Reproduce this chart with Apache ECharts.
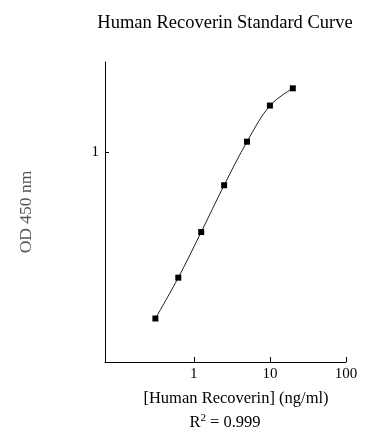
<!DOCTYPE html>
<html><head><meta charset="utf-8">
<script src="https://cdn.jsdelivr.net/npm/echarts@6/dist/echarts.min.js"></script>
<style>html,body{margin:0;padding:0;background:#fff}#c{width:388px;height:444px}</style>
</head><body><div id="c"></div>
<script>
var concentrations = [0.3125, 0.625, 1.25, 2.5, 5, 10, 20];
var odValues = [0.078, 0.146, 0.294, 0.603, 1.177, 2.05, 2.67];
var xTickValues = [1, 10, 100];
var yTickValues = [1];
var titleText = 'Human Recoverin Standard Curve';
var xName = '[Human Recoverin] (ng/ml)';
var yName = 'OD 450 nm';
var r2Text = '0.999';

var font = '"Liberation Serif", "Times New Roman", serif';
var chart = echarts.init(document.getElementById('c'), null, {renderer: 'canvas'});
var pts = concentrations.map(function (x, i) { return [x, odValues[i]]; });
chart.setOption({
  animation: false,
  backgroundColor: '#fff',
  title: [{
    text: titleText, left: 220, top: 9, textAlign: 'center',
    textStyle: {fontFamily: font, fontSize: 18.5, fontWeight: 'normal', color: '#000'}
  }, {
    text: xName, left: 231, top: 385, textAlign: 'center',
    textStyle: {fontFamily: font, fontSize: 16.5, fontWeight: 'normal', color: '#000'}
  }, {
    text: '{n|R}{s|2}{n| = ' + r2Text + '}', left: 220, top: 408, textAlign: 'center',
    textStyle: {fontFamily: font, fontWeight: 'normal', color: '#000',
      rich: {n: {fontFamily: font, fontSize: 16.5, color: '#000', verticalAlign: 'bottom'},
             s: {fontFamily: font, fontSize: 11, color: '#000', verticalAlign: 'top', padding: [0, 0, 7, 0]}}}
  }],
  grid: {left: 105, right: 42, top: 62, bottom: 82, containLabel: false},
  xAxis: {
    type: 'log', logBase: 10, min: 0.068, max: 100,
    axisLine: {lineStyle: {color: '#000', width: 1}},
    axisTick: {inside: true, length: 5, lineStyle: {color: '#000'}, customValues: xTickValues},
    axisLabel: {fontFamily: font, fontSize: 15, color: '#000', margin: 5, customValues: xTickValues},
    splitLine: {show: false}, minorTick: {show: false}
  },
  yAxis: {
    type: 'log', logBase: 10, min: 0.04, max: 4,
    name: yName, nameLocation: 'middle', nameGap: 70, nameRotate: 90,
    nameTextStyle: {fontFamily: font, fontSize: 17.5, color: '#555'},
    axisLine: {lineStyle: {color: '#000', width: 1}},
    axisTick: {inside: true, length: 4, lineStyle: {color: '#000'}, customValues: yTickValues},
    axisLabel: {fontFamily: font, fontSize: 15, color: '#000', margin: 6, customValues: yTickValues},
    splitLine: {show: false}, minorTick: {show: false}
  },
  series: [{
    type: 'line', data: pts, smooth: 0.35,
    symbol: 'rect', symbolSize: 6,
    itemStyle: {color: '#000'},
    lineStyle: {color: '#222', width: 1}
  }]
});
</script></body></html>
